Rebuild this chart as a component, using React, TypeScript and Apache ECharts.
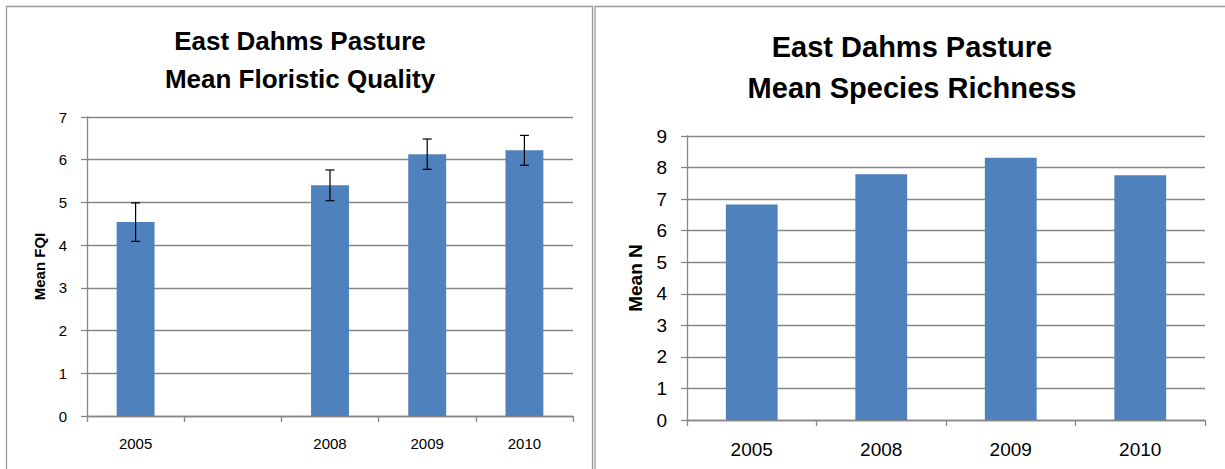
import React, { useEffect, useRef } from "react";
import * as echarts from "echarts";

// Left chart: mean floristic quality (FQI) with error bars
const fqiYears = ["2005", "", "2008", "2009", "2010"];
const fqiMean = [4.54, null, 5.4, 6.13, 6.22];
const fqiErr = [0.45, null, 0.36, 0.355, 0.35];

// Right chart: mean species richness
const richYears = ["2005", "2008", "2009", "2010"];
const richMean = [6.83, 7.79, 8.31, 7.76];

const FONT = "Liberation Sans";
const BAR = "#4F81BD";
const GRID = "#878787";

export default function App() {
  const ref = useRef<HTMLDivElement>(null);
  useEffect(() => {
    if (!ref.current) return;
    const chart = echarts.init(ref.current, null, { renderer: "svg" });
    const errData = fqiMean
      .map((m, i) => (m == null ? null : [i, m, fqiErr[i]]))
      .filter((d) => d != null);

    const yAxisCommon = (fs: number) => ({
      type: "value",
      min: 0,
      interval: 1,
      axisLine: { show: true, lineStyle: { color: GRID, width: 1.3 } },
      axisTick: { show: true, inside: false, length: 6, lineStyle: { color: GRID, width: 1.3 } },
      splitLine: { show: true, lineStyle: { color: GRID, width: 1.3 } },
      axisLabel: { color: "#000", fontFamily: FONT, fontSize: fs, margin: 20 },
      nameLocation: "middle",
      nameTextStyle: { color: "#000", fontFamily: FONT, fontWeight: "bold" },
    });
    const xAxisCommon = (fs: number) => ({
      type: "category",
      boundaryGap: true,
      axisLine: { show: true, lineStyle: { color: GRID, width: 1.3 } },
      axisTick: { show: true, inside: false, length: 6, alignWithLabel: false, interval: 0, lineStyle: { color: GRID, width: 1.3 } },
      axisLabel: { color: "#000", fontFamily: FONT, fontSize: fs, margin: 20, interval: 0 },
      splitLine: { show: false },
    });

    chart.setOption({
      animation: false,
      backgroundColor: "#fff",
      title: [
        {
          text: "East Dahms Pasture\nMean Floristic Quality",
          left: 300,
          top: 22,
          textAlign: "center",
          padding: 0,
          textStyle: { fontFamily: FONT, fontWeight: "bold", fontSize: 26, lineHeight: 38, color: "#000" },
        },
        {
          text: "East Dahms Pasture\nMean Species Richness",
          left: 912,
          top: 26,
          textAlign: "center",
          padding: 0,
          textStyle: { fontFamily: FONT, fontWeight: "bold", fontSize: 29, lineHeight: 41, color: "#000" },
        },
      ],
      grid: [
        { left: 87, top: 117, width: 486, height: 299, containLabel: false },
        { left: 687, top: 136, width: 518, height: 284, containLabel: false },
      ],
      xAxis: [
        { ...xAxisCommon(15), gridIndex: 0, data: fqiYears },
        { ...xAxisCommon(19), gridIndex: 1, data: richYears },
      ],
      yAxis: [
        {
          ...yAxisCommon(15),
          gridIndex: 0,
          max: 7,
          name: "Mean FQI",
          nameGap: 40,
          nameTextStyle: { color: "#000", fontFamily: FONT, fontWeight: "bold", fontSize: 15 },
        },
        {
          ...yAxisCommon(19),
          gridIndex: 1,
          max: 9,
          name: "Mean N",
          nameGap: 42,
          nameTextStyle: { color: "#000", fontFamily: FONT, fontWeight: "bold", fontSize: 19 },
        },
      ],
      series: [
        {
          type: "bar",
          xAxisIndex: 0,
          yAxisIndex: 0,
          data: fqiMean,
          barWidth: "39%",
          itemStyle: { color: BAR },
        },
        {
          type: "custom",
          xAxisIndex: 0,
          yAxisIndex: 0,
          data: errData,
          encode: { x: 0, y: 1 },
          z: 5,
          renderItem: (params: any, api: any) => {
            const x = api.value(0);
            const m = api.value(1);
            const e = api.value(2);
            const hi = api.coord([x, m + e]);
            const lo = api.coord([x, m - e]);
            const w = 4.5;
            const st = { stroke: "#000", lineWidth: 1.2 };
            return {
              type: "group",
              children: [
                { type: "line", shape: { x1: hi[0], y1: hi[1], x2: lo[0], y2: lo[1] }, style: st },
                { type: "line", shape: { x1: hi[0] - w, y1: hi[1], x2: hi[0] + w, y2: hi[1] }, style: st },
                { type: "line", shape: { x1: lo[0] - w, y1: lo[1], x2: lo[0] + w, y2: lo[1] }, style: st },
              ],
            };
          },
        },
        {
          type: "bar",
          xAxisIndex: 1,
          yAxisIndex: 1,
          data: richMean,
          barWidth: "40%",
          itemStyle: { color: BAR },
        },
      ],
      graphic: [
        {
          type: "rect",
          shape: { x: 6.5, y: 6.5, width: 586, height: 520 },
          style: { fill: "none", stroke: "#9a9a9a", lineWidth: 1.3 },
          silent: true,
        },
        {
          type: "rect",
          shape: { x: 595, y: 6.5, width: 700, height: 520 },
          style: { fill: "none", stroke: "#9a9a9a", lineWidth: 1.3 },
          silent: true,
        },
      ],
    });
    return () => chart.dispose();
  }, []);
  return (
    <div
      ref={ref}
      style={{ position: "fixed", left: 0, top: 0, width: 1225, height: 469, background: "#fff" }}
    />
  );
}
